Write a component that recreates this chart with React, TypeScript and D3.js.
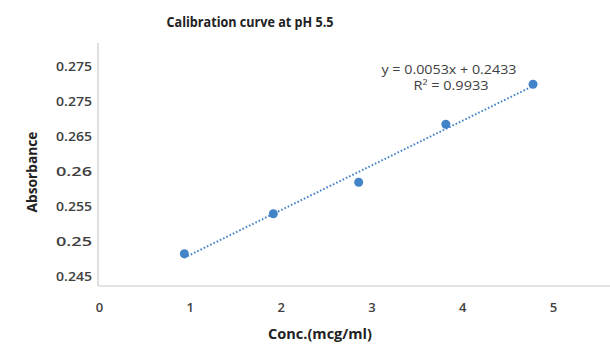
import React from "react";
import * as d3 from "d3";

const concentrations = [0.94, 1.92, 2.86, 3.82, 4.78];
const absorbances = [0.2489, 0.2546, 0.2591, 0.2674, 0.2731];
const yTickValues = [0.245, 0.25, 0.255, 0.26, 0.265, 0.27, 0.275];
const yTickLabels = ["0.245", "0.25", "0.255", "0.26", "0.265", "0.275", "0.275"];
const xTickValues = [0, 1, 2, 3, 4, 5];
const titleText = "Calibration curve at pH 5.5";
const xTitle = "Conc.(mcg/ml)";
const yTitle = "Absorbance";
const equationText = "y = 0.0053x + 0.2433";
const r2Text = "R² = 0.9933";

const W = 610;
const H = 345;
const left = 98;
const right = 610;
const top = 43;
const bottom = 286;

export default function App() {
  const x = d3.scaleLinear().domain([0, 5]).range([99, 553]);
  const y = d3.scaleLinear().domain([0.245 - 5 / 7000, 0.245 + 238 / 7000]).range([bottom, top]);

  const n = concentrations.length;
  const mx = d3.mean(concentrations) as number;
  const my = d3.mean(absorbances) as number;
  let sxy = 0, sxx = 0;
  for (let i = 0; i < n; i++) {
    sxy += (concentrations[i] - mx) * (absorbances[i] - my);
    sxx += (concentrations[i] - mx) ** 2;
  }
  const slope = sxy / sxx;
  const intercept = my - slope * mx;
  const x0 = d3.min(concentrations) as number;
  const x1 = d3.max(concentrations) as number;
  const trend = d3.line<number>().x((d) => x(d)).y((d) => y(slope * d + intercept))([x0, x1]) as string;

  const font = "'Open Sans', 'Liberation Sans', sans-serif";
  const textColor = "#404040";
  const blue = "#4384c9";

  return (
    <svg width={W} height={H} style={{ position: "absolute", left: 0, top: 0, background: "#fff" }} fontFamily={font}>
      <rect x={0} y={0} width={W} height={H} fill="#fff" />
      <text x={250} y={27} textAnchor="middle" fontSize={14} fontWeight={700} fill="#222" textLength={167} lengthAdjust="spacingAndGlyphs">
        {titleText}
      </text>
      <line x1={left} x2={left} y1={top} y2={bottom} stroke="#c8c8c8" strokeWidth={1.2} />
      <line x1={left} x2={right} y1={bottom} y2={bottom} stroke="#c8c8c8" strokeWidth={1.2} />
      {yTickValues.map((v, i) => (
        <text key={"y" + i} x={92} y={y(v) - 5} dy="0.35em" textAnchor="end" fontSize={13} fontWeight={600} fill={textColor} textLength={36} lengthAdjust="spacingAndGlyphs">
          {yTickLabels[i]}
        </text>
      ))}
      {xTickValues.map((v) => (
        <text key={"x" + v} x={x(v) + 0.5} y={307} dy="0.35em" textAnchor="middle" fontSize={13} fontWeight={600} fill={textColor}>
          {String(v)}
        </text>
      ))}
      <text transform={`translate(37,172) rotate(-90)`} textAnchor="middle" fontSize={13.5} fontWeight={700} fill="#222" textLength={81} lengthAdjust="spacingAndGlyphs">
        {yTitle}
      </text>
      <text x={320} y={339} textAnchor="middle" fontSize={13.5} fontWeight={700} fill="#222" textLength={104} lengthAdjust="spacingAndGlyphs">
        {xTitle}
      </text>
      <path d={trend} fill="none" stroke={blue} strokeWidth={2} strokeDasharray="1.6 2" />
      {concentrations.map((c, i) => (
        <circle key={"p" + i} cx={x(c)} cy={y(absorbances[i])} r={4.5} fill={blue} />
      ))}
      <text x={449} y={74} textAnchor="middle" fontSize={12.5} fill={textColor} textLength={135} lengthAdjust="spacingAndGlyphs">
        {equationText}
      </text>
      <text x={451} y={90} textAnchor="middle" fontSize={12.5} fill={textColor} textLength={75} lengthAdjust="spacingAndGlyphs">
        {r2Text}
      </text>
    </svg>
  );
}
